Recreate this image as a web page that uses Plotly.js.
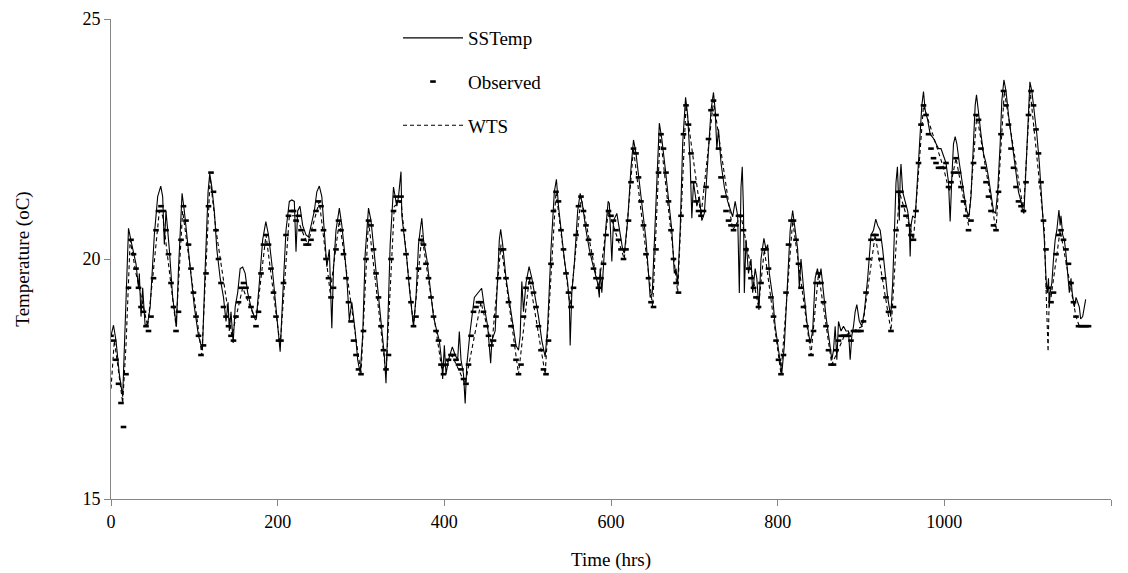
<!DOCTYPE html>
<html>
<head>
<meta charset="utf-8">
<script src="https://cdn.plot.ly/plotly-3.0.1.min.js"></script>
<style>html,body{margin:0;padding:0;background:#fff;}#chart{width:1128px;height:573px;}</style>
</head>
<body>
<div id="chart"></div>
<script>
// SSTemp (solid line) vertices: time (hrs), temperature (oC)
const sstTime = [0,3,6,10,14,17,21,25,30,33,34,36,38,41,44,47,52,56,59.7,62,64,66,70,74,78.5,81,85.3,88,92,96,100,105,109.7,113,116.5,118.5,121,124,127,131,135,138,140.5,142,144,146.6,149,152,155,158,161,164,168,172,174.6,178,182,185.8,189,193,197,200,203,206,210,214,217,220,222,224,226.7,230,234,237,240,244,247,250,253,256,259,262,265,267,270,274,277,280,283,286,289,293,296,299,302,305,309,312,316,320,324,328,330,332,335,339,341,343,345,348,349,352,355,358,361,363,366,369,371,373,375,379,383,387,391,394,397,398,400,402,405,409.6,413,416,418,420,423,425,427,431,436,441,444.8,448,452,455.6,457,461,464,466,467.6,470,474,478,482,486,489,491,493,495,498,501.7,505,509,513,517,521,524,528,532,534.5,537,540,544,548,550,551,553,556,560,563,566,570,574,578,582,584,586,587,589,591,594,596.6,598,601,603,607,611,614,616,620,624,627,630,634,638,642,645,647,649.5,652,655,658,661,665,669,673,676,678,680,683,686,689.5,692,695,697,699,703,706,709,712,716,720,723,725,727,729,732,736,740,744,746,749,752,754,756,757.5,759,760,762,765,768,770,773,775,777.5,780,783.5,786,788,790,794,797,800,802,805,808,812,815,818,821,824,826,828,831,835,839,842,845,847.7,850,852,855,858,862,865,867,869,871,873,876,879,882,885,887,889,891,893,895,898,901,904,908,912,915,917.7,920,923,926,929,932,935.7,938,940,942,943.7,945,946,947,948,950,953,956,958,959,960,962,965,967,970,973,975,977,980,983,987,990,993,996,999,1002,1005,1007,1009,1011,1013,1015,1018,1021,1024,1027,1029.5,1032,1035,1037,1038.6,1041,1044,1047,1050,1053,1056,1059,1061.5,1064,1067,1069,1071.5,1074,1077,1080,1083,1086,1089,1092,1094,1095.5,1097,1100,1102.7,1105,1108,1111,1114,1117,1120,1122,1123.6,1125,1126,1127,1129,1131,1133,1135,1137.5,1139,1140,1142,1144,1146,1148,1150,1152,1153.5,1156,1158,1160,1162,1163.6,1166,1169.6];
const sstTemp = [18.4,18.62,18.3,17.6,17.13,18.5,20.64,20.3,19.9,19.4,19.7,18.8,19.4,18.6,18.66,19.0,20.5,21.3,21.52,21.3,20.3,21.0,20.2,19.2,18.59,19.8,21.37,21.0,20.3,19.7,19.0,18.4,18.1,19.8,21.4,21.78,21.5,21.0,20.2,19.6,19.2,18.7,19.1,18.5,18.9,18.25,19.0,19.3,19.8,19.83,19.7,19.3,19.0,18.8,18.8,19.5,20.4,20.78,20.5,19.9,19.2,18.6,18.07,19.2,20.6,21.2,21.23,21.2,20.15,21.0,21.1,20.7,20.5,20.46,20.7,21.0,21.4,21.52,21.3,20.6,19.84,20.2,18.56,19.8,20.6,21.06,20.7,20.2,19.6,18.73,19.1,18.5,17.9,17.62,18.4,20.1,21.06,20.8,20.1,19.4,18.7,18.0,17.41,18.5,20.3,21.5,21.3,21.1,21.3,21.82,20.9,20.5,20.0,19.4,18.9,18.59,19.2,20.3,20.6,20.85,20.4,20.0,19.4,18.8,18.5,18.3,17.83,17.5,18.2,17.6,17.9,18.17,18.0,17.9,18.49,17.9,17.6,16.99,17.8,18.5,19.2,19.3,19.39,19.0,18.6,17.83,18.3,18.5,19.5,20.4,20.62,20.3,19.6,19.1,18.6,18.2,18.1,18.4,19.53,18.9,19.5,19.84,19.6,19.2,18.8,18.3,17.96,18.6,20.2,21.4,21.66,21.1,20.6,20.0,19.5,19.1,18.2,19.3,19.9,21.0,21.37,21.1,20.6,20.2,19.9,19.6,19.5,19.2,19.8,19.3,19.9,20.7,21.2,21.16,19.95,20.8,20.95,20.5,20.2,20.12,20.8,21.9,22.48,22.2,21.6,21.0,20.4,19.7,19.2,19.29,20.2,21.6,22.83,22.5,21.9,21.2,20.6,19.7,19.8,19.49,20.6,22.4,23.37,23.0,22.0,20.85,21.6,21.1,21.3,20.8,20.95,22.0,23.1,23.47,23.1,22.3,22.7,22.0,21.5,21.2,21.0,20.88,21.2,20.9,19.29,21.5,21.92,21.0,19.29,20.4,19.7,20.0,19.3,19.8,19.6,18.94,20.0,20.43,20.2,20.3,19.7,19.2,18.6,18.2,17.97,17.62,18.2,19.6,20.6,21.01,20.6,20.2,19.4,20.0,19.4,18.7,18.24,18.5,19.6,19.8,19.6,19.8,19.3,18.8,18.3,17.9,18.1,18.6,17.9,18.7,18.5,18.6,18.5,18.5,17.9,18.4,18.6,18.9,19.05,18.7,18.6,18.9,19.6,20.5,20.6,20.83,20.7,20.6,20.2,19.7,19.2,18.8,19.5,20.5,21.6,21.92,21.4,20.8,21.7,21.98,21.4,21.2,21.0,20.7,20.05,20.7,20.9,20.85,21.5,22.4,23.2,23.49,23.1,22.9,22.6,22.51,22.4,22.3,22.3,22.13,22.0,21.6,20.78,21.7,22.4,22.55,22.4,22.0,21.6,21.3,21.0,20.88,21.3,22.5,23.2,23.42,23.0,22.6,22.2,22.0,21.7,21.3,21.0,20.95,21.4,22.4,23.3,23.73,23.5,23.0,22.6,22.2,21.8,21.4,21.2,21.0,20.95,21.5,22.9,23.69,23.5,23.1,22.6,22.0,21.3,20.4,19.6,19.29,19.6,19.0,19.3,19.5,20.0,20.4,20.6,21.02,20.7,20.9,20.5,20.4,20.1,19.7,19.3,19.6,19.29,19.0,19.2,19.1,19.0,18.75,18.8,19.16];

// Observed values, read every 3 hours starting at t = 0
const obsStart = 0;
const obsStep = 3;
const obsTemp = [18.4,18.3,17.9,17.4,17.0,16.5,17.6,19.4,20.4,20.1,19.8,19.4,19.0,18.9,18.6,18.5,18.8,19.6,20.6,21.0,21.1,21.0,20.6,20.1,19.5,19.0,18.5,18.9,20.4,21.1,20.8,20.3,19.8,19.3,18.8,18.4,18.0,18.2,19.7,21.1,21.8,21.4,20.6,20.0,19.5,19.0,18.8,18.6,18.4,18.3,18.8,19.1,19.4,19.5,19.4,19.2,19.0,18.8,18.6,18.9,19.7,20.3,20.5,20.3,19.8,19.3,18.8,18.3,18.3,19.5,20.5,20.9,21.0,21.0,20.8,20.9,20.6,20.4,20.3,20.3,20.4,20.6,21.0,21.2,21.1,20.6,20.0,19.6,19.2,19.4,20.2,20.8,20.6,20.1,19.6,19.1,18.7,18.3,18.0,17.7,17.6,18.5,20.0,20.8,20.7,20.2,19.7,19.2,18.6,18.1,17.7,18.0,20.0,21.0,21.3,21.2,21.3,20.6,20.1,19.6,19.1,18.6,18.8,19.8,20.4,20.3,19.9,19.6,19.2,18.8,18.5,18.3,17.8,17.6,17.8,17.9,18.0,18.0,17.9,17.8,17.7,17.5,17.4,17.8,18.4,18.9,19.0,19.1,19.1,18.9,18.6,18.4,18.2,18.3,18.8,19.6,20.2,20.2,19.6,19.1,18.6,18.2,17.9,17.6,17.8,18.8,19.4,19.6,19.5,19.3,19.0,18.6,18.1,17.7,17.6,18.3,19.9,21.0,21.4,21.2,20.6,20.2,19.7,19.3,19.0,19.4,20.5,21.1,21.3,21.0,20.7,20.4,20.1,19.8,19.6,19.4,19.6,19.9,20.5,21.0,20.9,20.8,20.6,20.4,20.2,20.0,20.2,20.8,21.6,22.3,22.2,21.7,21.2,20.7,20.1,19.6,19.1,19.0,20.2,21.8,22.6,22.3,21.8,21.2,20.6,20.0,19.5,19.3,20.9,22.6,23.2,22.8,22.2,21.6,21.2,21.0,20.9,21.0,21.5,22.5,23.1,23.3,23.0,22.3,21.7,21.3,21.0,20.8,20.7,20.6,20.7,20.9,20.9,20.6,20.2,19.8,19.6,19.4,19.2,19.0,19.5,20.2,20.2,19.8,19.2,18.8,18.3,17.9,17.6,18.0,19.3,20.3,20.8,20.8,20.4,19.9,19.4,19.0,18.6,18.3,18.0,18.5,19.5,19.7,19.5,19.1,18.6,18.1,17.8,17.8,18.1,18.3,18.4,18.4,18.4,18.4,18.3,18.5,18.5,18.5,18.5,18.7,19.3,20.0,20.4,20.5,20.5,20.4,20.0,19.6,19.2,18.9,18.5,19.0,20.6,21.4,21.4,21.1,20.9,20.7,20.5,20.4,21.0,22.0,22.8,23.2,23.0,22.6,22.3,22.1,22.0,21.9,21.9,21.9,22.0,21.5,21.6,21.8,22.1,21.8,21.5,21.2,20.9,20.6,20.8,22.0,23.0,22.9,22.3,21.9,21.6,21.3,21.0,20.7,20.6,21.4,22.6,23.5,23.2,22.8,22.3,21.9,21.5,21.2,21.1,21.0,21.6,23.0,23.5,23.2,22.7,22.2,21.6,20.8,20.2,19.4,19.1,19.3,20.1,20.5,20.6,20.4,20.2,19.9,19.5,19.1,18.8,18.6,18.6,18.6,18.6,18.6];
const obsTime = obsTemp.map((_, i) => obsStart + i * obsStep);

// WTS (dashed line) vertices
const wtsTime = [0,4,8,14,18,23,30,44,50,58,62,78,86,109,119,126,145,158,174,186,203,214,222,236,250,263,274,300,309,330,340,348,363,373,397,409,425,444,457,468,489,502,521,534,551,564,585,597,616,627,650,659,680,690,708,723,746,756,777,784,804,818,840,849,865,880,902,917,936,946,963,975,999,1006,1014,1029,1039,1062,1072,1095,1103,1120,1122,1124.5,1126,1128,1139,1158,1162,1172];
const wtsTemp = [17.3,18.3,17.8,17.0,18.2,20.4,19.7,18.6,19.6,21.0,20.9,18.6,21.0,18.0,21.7,20.6,18.4,19.4,18.7,20.5,18.2,20.9,20.9,20.3,21.2,19.3,20.8,17.6,20.8,17.6,21.1,21.2,18.6,20.5,17.7,18.0,17.4,19.1,18.2,20.3,17.6,19.6,17.6,21.4,19.0,21.3,19.4,21.0,20.0,22.3,19.0,22.6,19.3,23.2,20.9,23.3,20.6,20.9,19.0,20.2,17.6,20.8,18.0,19.7,17.8,18.4,18.6,20.5,18.5,21.4,20.4,23.2,21.9,21.4,22.1,20.7,23.0,20.6,23.5,21.0,23.5,20.6,19.4,18.07,19.3,19.2,20.6,18.8,18.6,18.6];

const FONT = 'Liberation Serif, Times New Roman, serif';

const traces = [
  {x: sstTime, y: sstTemp, name: 'SSTemp', type: 'scatter', mode: 'lines',
   line: {color: '#000', width: 1.1}, legendgroup: 'a'},
  {x: obsTime, y: obsTemp, name: 'Observed', type: 'scatter', mode: 'markers',
   marker: {symbol: 'line-ew', size: 4, color: '#000', line: {color: '#000', width: 2.6}}, legendgroup: 'b'},
  {x: wtsTime, y: wtsTemp, name: 'WTS', type: 'scatter', mode: 'lines',
   line: {color: '#000', width: 1.1, dash: '4px,3px'}, legendgroup: 'c'}
];

const layout = {
  width: 1128, height: 573,
  margin: {l: 111, r: 17, t: 19, b: 74},
  paper_bgcolor: '#fff', plot_bgcolor: '#fff',
  font: {family: FONT, size: 18, color: '#000'},
  showlegend: true,
  legend: {x: 0.287, y: 1.0, xanchor: 'left', yanchor: 'top', bgcolor: 'rgba(0,0,0,0)',
           font: {family: FONT, size: 19, color: '#000'}, tracegroupgap: 16, itemwidth: 60},
  xaxis: {range: [0, 1200], tickvals: [0,200,400,600,800,1000,1200], showgrid: false, zeroline: false,
          showline: true, linecolor: '#868686', linewidth: 1, ticks: 'outside', ticklen: 6, tickcolor: '#868686',
          title: {text: 'Time (hrs)', font: {family: FONT, size: 19}, standoff: 22},
          tickfont: {family: FONT, size: 18}},
  yaxis: {range: [15, 25], tickvals: [15, 20, 25], showgrid: false, zeroline: false,
          showline: true, linecolor: '#868686', linewidth: 1, ticks: 'outside', ticklen: 6, tickcolor: '#868686',
          title: {text: 'Temperature (oC)', font: {family: FONT, size: 19}, standoff: 47},
          tickfont: {family: FONT, size: 18}}
};

Plotly.newPlot('chart', traces, layout, {displayModeBar: false, staticPlot: true});
</script>
</body>
</html>
